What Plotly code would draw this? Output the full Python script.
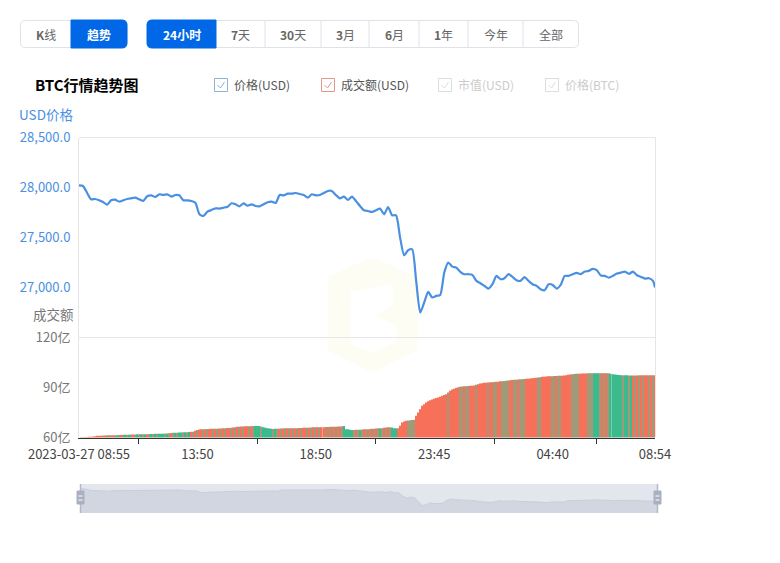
# BTC 24h trend panel: price line over volume bars, with the page's buttons,
# checkbox row and zoom strip around it.

import pandas as pd
import plotly.graph_objects as go

W, H = 780, 563
FONT = "Noto Sans CJK SC"

# ── Data ──────────────────────────────────────────────────────────────────
# every 5 minutes, one sample is missing just before 18:50
times_a = pd.date_range("2023-03-27 08:55", periods=118, freq="5min")
times_b = pd.date_range("2023-03-27 18:50", periods=170, freq="5min")
categories = [t.strftime("%Y-%m-%d %H:%M") for t in times_a.append(times_b)]
categories[-1] = "2023-03-28 08:54"

# price in USD, read every second sample (last one is the closing sample)
price = [
    28022, 28015, 27948, 27882, 27885, 27872, 27855, 27828, 27872, 27878, 27858, 27872,
    27885, 27892, 27898, 27882, 27865, 27912, 27922, 27905, 27932, 27925, 27932, 27908,
    27925, 27922, 27872, 27872, 27865, 27848, 27732, 27715, 27758, 27775, 27792, 27789,
    27798, 27808, 27842, 27832, 27812, 27842, 27818, 27832, 27815, 27812, 27832, 27852,
    27858, 27845, 27925, 27922, 27938, 27938, 27945, 27935, 27925, 27898, 27932, 27922,
    27925, 27945, 27965, 27965, 27925, 27892, 27908, 27875, 27908, 27865, 27815, 27772,
    27765, 27755, 27772, 27789, 27732, 27805, 27722, 27722, 27499, 27322, 27372, 27382,
    27066, 26750, 26850, 26956, 26900, 26916, 26926, 27150, 27249, 27209, 27199, 27156,
    27133, 27133, 27126, 27066, 27043, 27016, 26989, 27033, 27116, 27083, 27093, 27133,
    27106, 27073, 27066, 27103, 27066, 27033, 27016, 26983, 26973, 27033, 27026, 26989,
    27026, 27116, 27116, 27133, 27146, 27133, 27159, 27166, 27186, 27173, 27120, 27116,
    27099, 27116, 27139, 27149, 27159, 27136, 27159, 27123, 27106, 27089, 27093, 27066,
    27000,
]

# 24h volume, in 亿 USD
volume = [
    60.0, 60.1, 60.1, 60.2, 60.3, 60.4, 60.5, 60.6, 60.8, 61.0, 61.1, 61.1,
    61.2, 61.2, 61.3, 61.3, 61.3, 61.4, 61.4, 61.4, 61.5, 61.5, 61.6, 61.6,
    61.7, 61.7, 61.8, 61.8, 61.8, 61.9, 61.9, 61.9, 62.0, 62.0, 62.0, 62.1,
    62.1, 62.1, 62.2, 62.2, 62.2, 62.3, 62.3, 62.4, 62.4, 62.5, 62.7, 62.8,
    62.9, 62.9, 63.0, 63.0, 63.1, 63.1, 63.2, 63.3, 63.4, 63.5, 64.0, 64.5,
    64.8, 64.9, 65.0, 65.0, 65.1, 65.1, 65.2, 65.2, 65.3, 65.3, 65.4, 65.4,
    65.5, 65.6, 65.7, 65.7, 65.8, 66.0, 66.2, 66.4, 66.5, 66.6, 66.6, 66.7,
    66.7, 66.8, 66.8, 66.9, 66.9, 66.9, 66.9, 66.5, 66.2, 65.9, 65.6, 65.4,
    65.2, 65.1, 65.2, 65.3, 65.3, 65.4, 65.4, 65.5, 65.5, 65.5, 65.5, 65.5,
    65.6, 65.6, 65.7, 65.7, 65.8, 65.8, 65.9, 65.9, 66.0, 66.1, 66.1, 66.1,
    66.2, 66.2, 66.2, 66.3, 66.3, 66.4, 66.4, 66.5, 66.5, 66.6, 66.6, 66.8,
    66.9, 65.0, 64.9, 64.7, 64.5, 64.5, 64.6, 64.6, 64.7, 64.8, 64.9, 64.9,
    65.0, 65.1, 65.2, 65.3, 65.4, 65.5, 65.5, 65.6, 65.8, 66.0, 66.1, 66.1,
    66.0, 65.6, 65.5, 65.5, 67.0, 69.0, 69.6, 70.0, 70.2, 70.4, 70.5, 70.6,
    73.0, 75.0, 77.0, 79.0, 80.0, 81.0, 81.8, 82.4, 82.8, 83.3, 83.7, 84.0,
    84.4, 85.0, 85.5, 86.0, 87.0, 88.0, 88.8, 89.2, 89.7, 90.2, 90.5, 90.6,
    90.7, 90.8, 90.9, 91.0, 91.1, 91.2, 91.6, 92.0, 92.4, 92.6, 92.8, 92.9,
    93.0, 93.1, 93.2, 93.3, 93.4, 93.5, 93.7, 93.8, 93.9, 94.0, 94.2, 94.4,
    94.5, 94.6, 94.7, 94.8, 94.9, 95.0, 95.1, 95.2, 95.3, 95.4, 95.5, 95.7,
    95.9, 96.0, 96.2, 96.4, 96.5, 96.6, 96.7, 96.7, 96.8, 96.9, 96.9, 97.0,
    97.0, 97.1, 97.2, 97.4, 97.6, 97.8, 97.9, 98.1, 98.2, 98.2, 98.3, 98.4,
    98.4, 98.4, 98.5, 98.5, 98.5, 98.5, 98.5, 98.5, 98.5, 98.5, 98.5, 98.5,
    98.5, 98.3, 98.0, 97.8, 97.7, 97.5, 97.4, 97.3, 97.3, 97.3, 97.2, 97.2,
    97.2, 97.2, 97.2, 97.3, 97.3, 97.3, 97.3, 97.3, 97.3, 97.3, 97.4, 97.4,
]

# bar direction: u = up, d = down, m = mixed (blended stripe)
volume_dir = "".join([
    "mmuuuuuuuuuumumumumdmumdmdmumdmdmdum",
    "dmdmdddmdmumdmddmdmdumumuumumuumumum",
    "umuumumumumuumumdddmdddddmdmumumumum",
    "umumuumumumumuumumumumumdddddmumdmum",
    "umumumdmumumddduuuuummmmuuuuuuuuuuuu",
    "uuuumuuuuummummuuumuuuuumuummuummmmu",
    "ummummmuuuuuummuuuuummummuuuuummmmuu",
    "uummmdddmumumddddddmddmdumumumuumumu",
])

price_ticks = [27000, 27500, 28000, 28500]
price_labels = ["27,000.0", "27,500.0", "28,000.0", "28,500.0"]
volume_ticks = [60, 90, 120]
volume_labels = ["60亿", "90亿", "120亿"]
time_label_idx = [0, 59, 118, 177, 236, 287]
time_labels = ["2023-03-27 08:55", "13:50", "18:50", "23:45", "04:40", "08:54"]
time_tick_idx = [29.5, 89, 147.5, 207, 258]

checks = ["价格(USD)", "成交额(USD)", "市值(USD)", "价格(BTC)"]

assert len(categories) == len(volume) == len(volume_dir) == 288, (len(volume), len(volume_dir))
assert len(price) == 145, len(price)

# ── Colours ───────────────────────────────────────────────────────────────
BLUE = "#0068e6"
LINE = "#4a90e2"
BORDER = "#dfe2e8"
GRID = "#e6e6e6"
BAR_COLORS = {"u": "#f6705a", "d": "#3bbb8d", "m": "#a09a78"}


def fx(x):
    return x / W


def fy(y):
    return 1 - y / H


def round_rect(x0, y0, x1, y1, r_left=0, r_right=0):
    """SVG path in paper coordinates for a box with rounded left/right corners."""
    p = []
    p.append(f"M {fx(x0 + r_left)} {fy(y0)} L {fx(x1 - r_right)} {fy(y0)}")
    if r_right:
        p.append(f"Q {fx(x1)} {fy(y0)} {fx(x1)} {fy(y0 + r_right)}")
        p.append(f"L {fx(x1)} {fy(y1 - r_right)} Q {fx(x1)} {fy(y1)} {fx(x1 - r_right)} {fy(y1)}")
    else:
        p.append(f"L {fx(x1)} {fy(y1)}")
    p.append(f"L {fx(x0 + r_left)} {fy(y1)}")
    if r_left:
        p.append(f"Q {fx(x0)} {fy(y1)} {fx(x0)} {fy(y1 - r_left)}")
        p.append(f"L {fx(x0)} {fy(y0 + r_left)} Q {fx(x0)} {fy(y0)} {fx(x0 + r_left)} {fy(y0)}")
    else:
        p.append(f"L {fx(x0)} {fy(y0)}")
    return " ".join(p) + " Z"


def poly(points):
    head, *rest = points
    return f"M {fx(head[0])} {fy(head[1])} " + " ".join(f"L {fx(a)} {fy(b)}" for a, b in rest) + " Z"


def add_box(fig, path, fill="rgba(0,0,0,0)", color=BORDER, width=1, layer="above"):
    fig.add_shape(type="path", path=path, xref="paper", yref="paper", fillcolor=fill,
                  line=dict(color=color, width=width), layer=layer)


def add_hv(fig, x0, y0, x1, y1, color, width=1, layer="above"):
    fig.add_shape(type="line", x0=fx(x0), x1=fx(x1), y0=fy(y0), y1=fy(y1), xref="paper",
                  yref="paper", line=dict(color=color, width=width), layer=layer)


def add_text(fig, x, y, text, size=12, color="#666666", anchor="center"):
    fig.add_annotation(x=fx(x), y=fy(y), xref="paper", yref="paper", text=text, showarrow=False,
                       xanchor=anchor, yanchor="middle", font=dict(family=FONT, size=size, color=color))


fig = go.Figure()

# ── Traces ────────────────────────────────────────────────────────────────
price_x = categories[::2] + [categories[-1]]

fig.add_trace(go.Scatter(
    x=price_x, y=price, mode="lines",
    line=dict(color=LINE, width=2.2, shape="spline", smoothing=0.6),
    xaxis="x", yaxis="y", hoverinfo="skip",
))
fig.add_trace(go.Bar(
    x=categories, y=volume,
    marker=dict(color=[BAR_COLORS[d] for d in volume_dir], line_width=0),
    xaxis="x", yaxis="y2", hoverinfo="skip",
))
fig.add_trace(go.Scatter(
    x=price_x, y=price, mode="lines", fill="tozeroy", fillcolor="#d1d6e0",
    line=dict(color="#c9cfda", width=1),
    xaxis="x3", yaxis="y3", hoverinfo="skip",
))

# ── Watermark ─────────────────────────────────────────────────────────────
add_box(fig, poly([(372, 258), (417, 277), (417, 350), (372, 372), (328, 350), (328, 277)]),
        fill="#fdfdf4", color="#fdfdf4", layer="below")
add_box(fig, poly([(351, 292), (392, 284), (392, 305), (376, 316), (396, 326), (396, 342),
                   (372, 352), (351, 344)]),
        fill="#ffffff", color="#ffffff", layer="below")

# ── Plot frame ────────────────────────────────────────────────────────────
add_hv(fig, 79, 137.5, 655, 137.5, GRID)
add_hv(fig, 79, 337.5, 655, 337.5, GRID)
add_hv(fig, 655.5, 137, 655.5, 437, GRID)

# ── Buttons ───────────────────────────────────────────────────────────────
add_box(fig, round_rect(20.5, 20.5, 127, 47.5, 5, 5))
add_box(fig, round_rect(71, 20, 127, 48, 0, 5), fill=BLUE, color=BLUE)
add_text(fig, 46, 34, "<b>K</b>线")
add_text(fig, 99, 34, "<b>趋势</b>", color="#ffffff")

range_edges = [147, 216, 265, 321, 369, 419, 468, 523, 579]
add_box(fig, round_rect(147.5, 20.5, 578.5, 47.5, 5, 5))
add_box(fig, round_rect(147, 20, 216, 48, 5, 0), fill=BLUE, color=BLUE)
for edge in range_edges[2:-1]:
    add_hv(fig, edge, 21, edge, 47, BORDER)
range_text = ["<b>24小时</b>", "<b>7</b>天", "<b>30</b>天", "<b>3</b>月", "<b>6</b>月", "<b>1</b>年", "今年", "全部"]
for i, label in enumerate(range_text):
    add_text(fig, (range_edges[i] + range_edges[i + 1]) / 2, 34, label,
             color="#ffffff" if i == 0 else "#666666")

# ── Title and checkbox row ────────────────────────────────────────────────
add_text(fig, 33, 84, "<b>BTC行情趋势图</b>", size=15, color="#000000", anchor="left")

check_x = [214, 321, 438, 545]
check_color = ["#8fb3d3", "#e2968c", "#dddddd", "#dddddd"]
check_text = ["#555555", "#555555", "#cccccc", "#cccccc"]
for x, box_c, text_c, label in zip(check_x, check_color, check_text, checks):
    add_box(fig, round_rect(x + 0.5, 78.5, x + 13.5, 91.5), color=box_c)
    fig.add_shape(type="path", xref="paper", yref="paper", line=dict(color=box_c, width=1),
                  path=f"M {fx(x + 3.5)} {fy(85)} L {fx(x + 6.5)} {fy(88)} L {fx(x + 10.5)} {fy(82)}")
    add_text(fig, x + 17.5, 84, label, color=text_c, anchor="left")

add_text(fig, 17, 114.5, "USD价格", size=13.5, color=LINE, anchor="left")
add_text(fig, 31, 314, "成交额", size=13.5, color="#777777", anchor="left")

# ── Zoom strip ────────────────────────────────────────────────────────────
fig.add_shape(type="rect", x0=fx(80), x1=fx(658), y0=fy(484), y1=fy(513), xref="paper", yref="paper",
              fillcolor="#e3e6ed", line_width=0, layer="below")
for hx in (80.5, 657.5):
    add_hv(fig, hx, 484, hx, 513, "#b3b9c6", width=1.5)
    add_box(fig, round_rect(hx - 3.5, 491, hx + 3.5, 504), fill="#a9b0c2", color="#a9b0c2")
    add_hv(fig, hx - 2, 496, hx + 2, 496, "#ffffff")
    add_hv(fig, hx - 2, 500, hx + 2, 500, "#ffffff")

# ── Axes ──────────────────────────────────────────────────────────────────
fig.update_layout(
    width=W, height=H, autosize=False,
    margin=dict(l=0, r=0, t=0, b=0),
    paper_bgcolor="white", plot_bgcolor="white",
    showlegend=False, bargap=0.15,
    font=dict(family=FONT),
    xaxis=dict(
        domain=[fx(79), fx(655)], anchor="y2", type="category",
        categoryorder="array", categoryarray=categories, automargin=False,
        range=[0, 287], fixedrange=True, showgrid=False, zeroline=False,
        showline=True, linecolor="#333333", linewidth=1,
        tickmode="array", tickvals=[categories[i] for i in time_label_idx], ticktext=time_labels,
        ticks="", ticklabelstandoff=5, tickangle=0,
        tickfont=dict(size=13, color="#444444"),
        minor=dict(tickmode="array", tickvals=time_tick_idx, ticks="outside", ticklen=5,
                   tickcolor="#333333", tickwidth=1, showgrid=False),
    ),
    yaxis=dict(
        domain=[fy(337.5), fy(137.5)], anchor="x", range=[26500, 28500], fixedrange=True,
        showgrid=False, zeroline=False, showline=True, linecolor=GRID, linewidth=1, automargin=False,
        tickmode="array", tickvals=price_ticks, ticktext=price_labels, ticks="",
        ticklabelstandoff=5, tickfont=dict(size=13, color=LINE),
    ),
    yaxis2=dict(
        domain=[fy(437.5), fy(337.5)], anchor="x", range=[60, 120], fixedrange=True,
        showgrid=False, zeroline=False, showline=True, linecolor=GRID, linewidth=1, automargin=False,
        tickmode="array", tickvals=volume_ticks, ticktext=volume_labels, ticks="",
        ticklabelstandoff=5, tickfont=dict(size=13, color="#777777"),
    ),
    xaxis3=dict(
        domain=[fx(80), fx(658)], anchor="y3", type="category", automargin=False,
        categoryorder="array", categoryarray=categories,
        range=[0, 287], visible=False, fixedrange=True,
    ),
    yaxis3=dict(
        domain=[fy(513), fy(484)], anchor="x3", range=[26200, 28375], visible=False,
        fixedrange=True, automargin=False,
    ),
)

fig.write_html("out.html", config={"displayModeBar": False},
               post_script="document.body.style.margin='0';")
